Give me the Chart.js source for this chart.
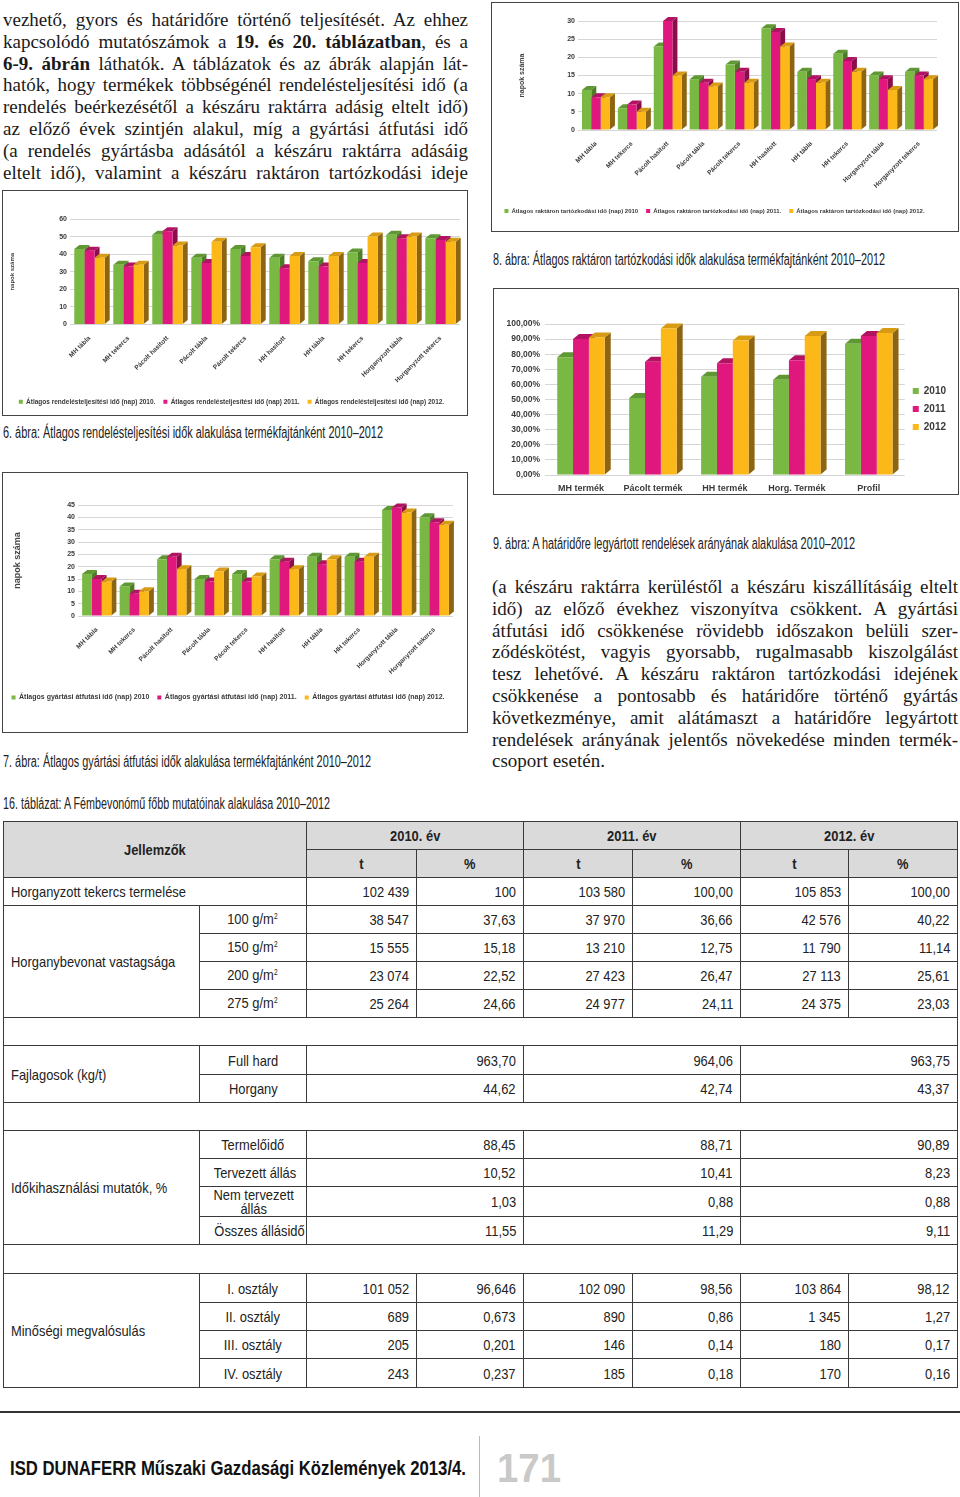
<!DOCTYPE html>
<html lang="hu">
<head>
<meta charset="utf-8">
<script src="https://cdn.jsdelivr.net/npm/chart.js@4.4.1/dist/chart.umd.min.js"></script>
<style>
  body { margin: 0; width: 960px; height: 1497px; position: relative; background: #fff; overflow: hidden;
         font-family: "Liberation Serif", "Times New Roman", serif; color: #1a1a1a; }
  .para { position: absolute; font-size: 19px; }
  .para div { height: 21.8px; line-height: 21.8px; text-align: justify; text-align-last: justify; }
  .para div.last { text-align-last: left; }
  .box { position: absolute; border: 1px solid #444; background: #fff; }
  .box canvas { display: block; }
  .cap { position: absolute; white-space: nowrap; font-family: "Liberation Sans", Arial, sans-serif;
         font-size: 16px; line-height: 16px; color: #222; transform-origin: left center; }
  table.t { position: absolute; left: 3px; top: 821px; border-collapse: collapse; table-layout: fixed; width: 954px;
            font-family: "Liberation Sans", Arial, sans-serif; font-size: 15px; color: #222; }
  table.t td { border: 1px solid #3a3a3a; padding: 0 7px; white-space: nowrap; overflow: hidden; line-height: 15px; }
  table.t td span { display: inline-block; transform: scaleX(.86); }
  td.l { text-align: left; } td.l span { transform-origin: left center; }
  td.r { text-align: right; } td.r span { transform-origin: right center; }
  td.c { text-align: center; }
  tr.h td { background: #dadada; font-weight: bold; }
  .sup { font-size: 9px; position: relative; top: -5px; }
</style>
</head>
<body>

<div class="para" style="left:3px;top:9px;width:465px">
  <div>vezhető, gyors és határidőre történő teljesítését. Az ehhez</div>
  <div>kapcsolódó mutatószámok a <b>19. és 20. táblázatban</b>, és a</div>
  <div><b>6-9. ábrán</b> láthatók. A táblázatok és az ábrák alapján lát-</div>
  <div>hatók, hogy termékek többségénél rendelésteljesítési idő (a</div>
  <div>rendelés beérkezésétől a készáru raktárra adásig eltelt idő)</div>
  <div>az előző évek szintjén alakul, míg a gyártási átfutási idő</div>
  <div>(a rendelés gyártásba adásától a készáru raktárra adásáig</div>
  <div>eltelt idő), valamint a készáru raktáron tartózkodási ideje</div>
</div>

<div class="box" style="left:491px;top:2px;width:466px;height:228px"><canvas id="c8" width="466" height="228"></canvas></div>
<div class="cap" style="left:493px;top:252px" data-w="392">8. ábra: Átlagos raktáron tartózkodási idők alakulása termékfajtánként 2010–2012</div>

<div class="box" style="left:2px;top:190px;width:464px;height:224px"><canvas id="c6" width="464" height="224"></canvas></div>
<div class="cap" style="left:3px;top:425px" data-w="380">6. ábra: Átlagos rendelésteljesítési idők alakulása termékfajtánként 2010–2012</div>

<div class="box" style="left:493px;top:288px;width:464px;height:205px"><canvas id="c9" width="464" height="205"></canvas></div>
<div class="cap" style="left:493px;top:536px" data-w="362">9. ábra: A határidőre legyártott rendelések arányának alakulása 2010–2012</div>

<div class="box" style="left:2px;top:472px;width:464px;height:259px"><canvas id="c7" width="464" height="259"></canvas></div>
<div class="cap" style="left:3px;top:754px" data-w="368">7. ábra: Átlagos gyártási átfutási idők alakulása termékfajtánként 2010–2012</div>

<div class="para" style="left:492px;top:576px;width:466px">
  <div>(a készáru raktárra kerüléstől a készáru kiszállításáig eltelt</div>
  <div>idő) az előző évekhez viszonyítva csökkent. A gyártási</div>
  <div>átfutási idő csökkenése rövidebb időszakon belüli szer-</div>
  <div>ződéskötést, vagyis gyorsabb, rugalmasabb kiszolgálást</div>
  <div>tesz lehetővé. A készáru raktáron tartózkodási idejének</div>
  <div>csökkenése a pontosabb és határidőre történő gyártás</div>
  <div>következménye, amit alátámaszt a határidőre legyártott</div>
  <div>rendelések arányának jelentős növekedése minden termék-</div>
  <div class="last">csoport esetén.</div>
</div>

<div class="cap" style="left:3px;top:796px" data-w="327">16. táblázat: A Fémbevonómű főbb mutatóinak alakulása 2010–2012</div>

<table class="t">
  <colgroup>
    <col style="width:196px"><col style="width:107px"><col style="width:110px"><col style="width:107px">
    <col style="width:109px"><col style="width:108px"><col style="width:108px"><col style="width:109px">
  </colgroup>
  <tr class="h" style="height:28px">
    <td rowspan="2" colspan="2" class="c"><span>Jellemzők</span></td>
    <td colspan="2" class="c"><span>2010. év</span></td>
    <td colspan="2" class="c"><span>2011. év</span></td>
    <td colspan="2" class="c"><span>2012. év</span></td>
  </tr>
  <tr class="h" style="height:28px">
    <td class="c"><span>t</span></td><td class="c"><span>%</span></td>
    <td class="c"><span>t</span></td><td class="c"><span>%</span></td>
    <td class="c"><span>t</span></td><td class="c"><span>%</span></td>
  </tr>
  <tr style="height:28px">
    <td colspan="2" class="l"><span>Horganyzott tekercs termelése</span></td>
    <td class="r"><span>102 439</span></td><td class="r"><span>100</span></td>
    <td class="r"><span>103 580</span></td><td class="r"><span>100,00</span></td>
    <td class="r"><span>105 853</span></td><td class="r"><span>100,00</span></td>
  </tr>
  <tr style="height:28px">
    <td rowspan="4" class="l"><span>Horganybevonat vastagsága</span></td>
    <td class="c"><span>100 g/m<span class="sup">2</span></span></td>
    <td class="r"><span>38 547</span></td><td class="r"><span>37,63</span></td>
    <td class="r"><span>37 970</span></td><td class="r"><span>36,66</span></td>
    <td class="r"><span>42 576</span></td><td class="r"><span>40,22</span></td>
  </tr>
  <tr style="height:28px">
    <td class="c"><span>150 g/m<span class="sup">2</span></span></td>
    <td class="r"><span>15 555</span></td><td class="r"><span>15,18</span></td>
    <td class="r"><span>13 210</span></td><td class="r"><span>12,75</span></td>
    <td class="r"><span>11 790</span></td><td class="r"><span>11,14</span></td>
  </tr>
  <tr style="height:28px">
    <td class="c"><span>200 g/m<span class="sup">2</span></span></td>
    <td class="r"><span>23 074</span></td><td class="r"><span>22,52</span></td>
    <td class="r"><span>27 423</span></td><td class="r"><span>26,47</span></td>
    <td class="r"><span>27 113</span></td><td class="r"><span>25,61</span></td>
  </tr>
  <tr style="height:28px">
    <td class="c"><span>275 g/m<span class="sup">2</span></span></td>
    <td class="r"><span>25 264</span></td><td class="r"><span>24,66</span></td>
    <td class="r"><span>24 977</span></td><td class="r"><span>24,11</span></td>
    <td class="r"><span>24 375</span></td><td class="r"><span>23,03</span></td>
  </tr>
  <tr style="height:28px"><td colspan="8"></td></tr>
  <tr style="height:29px">
    <td rowspan="2" class="l"><span>Fajlagosok (kg/t)</span></td>
    <td class="c"><span>Full hard</span></td>
    <td colspan="2" class="r"><span>963,70</span></td>
    <td colspan="2" class="r"><span>964,06</span></td>
    <td colspan="2" class="r"><span>963,75</span></td>
  </tr>
  <tr style="height:28px">
    <td class="c"><span>Horgany</span></td>
    <td colspan="2" class="r"><span>44,62</span></td>
    <td colspan="2" class="r"><span>42,74</span></td>
    <td colspan="2" class="r"><span>43,37</span></td>
  </tr>
  <tr style="height:28px"><td colspan="8"></td></tr>
  <tr style="height:28px">
    <td rowspan="4" class="l"><span>Időkihasználási mutatók, %</span></td>
    <td class="c"><span>Termelőidő</span></td>
    <td colspan="2" class="r"><span>88,45</span></td>
    <td colspan="2" class="r"><span>88,71</span></td>
    <td colspan="2" class="r"><span>90,89</span></td>
  </tr>
  <tr style="height:28px">
    <td class="c"><span>Tervezett állás</span></td>
    <td colspan="2" class="r"><span>10,52</span></td>
    <td colspan="2" class="r"><span>10,41</span></td>
    <td colspan="2" class="r"><span>8,23</span></td>
  </tr>
  <tr style="height:30px">
    <td class="c" style="line-height:14px"><span>Nem tervezett<br>állás</span></td>
    <td colspan="2" class="r"><span>1,03</span></td>
    <td colspan="2" class="r"><span>0,88</span></td>
    <td colspan="2" class="r"><span>0,88</span></td>
  </tr>
  <tr style="height:28px">
    <td class="c"><span>Összes állásidő</span></td>
    <td colspan="2" class="r"><span>11,55</span></td>
    <td colspan="2" class="r"><span>11,29</span></td>
    <td colspan="2" class="r"><span>9,11</span></td>
  </tr>
  <tr style="height:29px"><td colspan="8"></td></tr>
  <tr style="height:29px">
    <td rowspan="4" class="l"><span>Minőségi megvalósulás</span></td>
    <td class="c"><span>I. osztály</span></td>
    <td class="r"><span>101 052</span></td><td class="r"><span>96,646</span></td>
    <td class="r"><span>102 090</span></td><td class="r"><span>98,56</span></td>
    <td class="r"><span>103 864</span></td><td class="r"><span>98,12</span></td>
  </tr>
  <tr style="height:28px">
    <td class="c"><span>II. osztály</span></td>
    <td class="r"><span>689</span></td><td class="r"><span>0,673</span></td>
    <td class="r"><span>890</span></td><td class="r"><span>0,86</span></td>
    <td class="r"><span>1 345</span></td><td class="r"><span>1,27</span></td>
  </tr>
  <tr style="height:28px">
    <td class="c"><span>III. osztály</span></td>
    <td class="r"><span>205</span></td><td class="r"><span>0,201</span></td>
    <td class="r"><span>146</span></td><td class="r"><span>0,14</span></td>
    <td class="r"><span>180</span></td><td class="r"><span>0,17</span></td>
  </tr>
  <tr style="height:29px">
    <td class="c"><span>IV. osztály</span></td>
    <td class="r"><span>243</span></td><td class="r"><span>0,237</span></td>
    <td class="r"><span>185</span></td><td class="r"><span>0,18</span></td>
    <td class="r"><span>170</span></td><td class="r"><span>0,16</span></td>
  </tr>
</table>

<div style="position:absolute;left:0;top:1411px;width:960px;height:2px;background:#333"></div>
<div style="position:absolute;left:479px;top:1436px;width:1px;height:61px;background:#bbb"></div>
<div class="cap" style="left:10px;top:1457px;font-size:21px;line-height:22px;font-weight:bold;color:#111" data-w="456">ISD DUNAFERR Műszaki Gazdasági Közlemények 2013/4.</div>
<div class="cap" style="left:497px;top:1447px;font-size:40px;line-height:42px;font-weight:bold;color:#c9c9c9" data-w="64">171</div>

<script>
// product categories (figures 6-8)
const products = ["MH tábla", "MH tekercs", "Pácolt hasított", "Pácolt tábla", "Pácolt tekercs",
                  "HH hasított", "HH tábla", "HH tekercs", "Horganyzott tábla", "Horganyzott tekercs"];

// 6. ábra - rendelésteljesítési idő (nap)
const order2010 = [43, 34, 51, 38, 43, 38, 36, 41, 51, 49];
const order2011 = [42, 33, 53, 35, 39, 32, 33, 35, 49, 48];
const order2012 = [38, 34, 45, 47, 44, 39, 39, 50, 50, 47];

// 7. ábra - gyártási átfutási idő (nap)
const lead2010 = [17, 12, 23, 15, 17, 23, 24, 24, 43, 40];
const lead2011 = [15, 9, 24, 14, 14, 22, 21, 22, 44, 38];
const lead2012 = [14, 10, 19, 18, 16, 19, 23, 24, 42, 37];

// 8. ábra - raktáron tartózkodási idő (nap)
const stock2010 = [11, 6, 23, 14, 18, 28, 16, 21, 15, 16];
const stock2011 = [9, 7, 30, 13, 16, 27, 14, 19, 14, 15];
const stock2012 = [9, 5, 15, 12, 13, 23, 13, 16, 11, 14];

// 9. ábra - határidőre legyártott rendelések aránya (%)
const groups = ["MH termék", "Pácolt termék", "HH termék", "Horg. Termék", "Profil"];
const onTime2010 = [78, 51, 65, 63, 87];
const onTime2011 = [90, 75, 74, 76, 92];
const onTime2012 = [91, 97, 89, 92, 94];

const FRONT = ["#7ab844", "#e0187e", "#fcb719"];
const SIDE = ["#4e7d28", "#8c0d4c", "#8d6512"];
const TOP = ["#5f9733", "#b21262", "#d89b14"];
const FONT = "'Liberation Sans', Arial, sans-serif";

// fake excel 3d look: side + top faces drawn before the front faces
const depth3d = {
  id: "depth3d",
  beforeDatasetsDraw(chart, args, opts) {
    const ctx = chart.ctx;
    ctx.save();
    chart.data.datasets.forEach((ds, i) => {
      chart.getDatasetMeta(i).data.forEach((bar) => {
        const { x, y, base, width } = bar.getProps(["x", "y", "base", "width"], true);
        const l = x - width / 2, r = x + width / 2;
        ctx.fillStyle = SIDE[i];
        ctx.beginPath();
        ctx.moveTo(r, y); ctx.lineTo(r + opts.dx, y - opts.dy);
        ctx.lineTo(r + opts.dx, base - opts.dy); ctx.lineTo(r, base);
        ctx.closePath(); ctx.fill();
        ctx.fillStyle = TOP[i];
        ctx.beginPath();
        ctx.moveTo(l, y); ctx.lineTo(l + opts.dx, y - opts.dy);
        ctx.lineTo(r + opts.dx, y - opts.dy); ctx.lineTo(r, y);
        ctx.closePath(); ctx.fill();
      });
    });
    ctx.restore();
  },
};

function makeBars(id, labels, series, names, o) {
  return new Chart(document.getElementById(id), {
    type: "bar",
    data: {
      labels: labels,
      datasets: series.map((values, i) => ({
        label: names[i],
        data: values,
        backgroundColor: FRONT[i],
        categoryPercentage: o.cat,
        barPercentage: 1,
      })),
    },
    options: {
      responsive: false,
      animation: false,
      layout: { padding: o.pad },
      plugins: {
        tooltip: { enabled: false },
        legend: {
          position: o.legendPos,
          labels: {
            boxWidth: o.box, boxHeight: o.box, padding: o.legendPad, color: "#3a3a3a",
            font: { size: o.legendFont, weight: "bold", family: FONT },
          },
        },
        depth3d: { dx: o.dx, dy: o.dy },
      },
      scales: {
        x: {
          grid: { display: false },
          border: { display: false },
          ticks: {
            autoSkip: false, minRotation: o.rot, maxRotation: o.rot, padding: o.xPad, color: "#3a3a3a",
            font: { size: o.xFont, weight: "bold", family: FONT },
          },
          afterFit: (s) => { s.height = o.xh; },
        },
        y: {
          min: 0,
          max: o.max,
          grid: { color: "#d6d6d6", drawTicks: false },
          border: { display: false },
          ticks: {
            stepSize: o.step, padding: o.yPad, color: "#3a3a3a",
            font: { size: o.yFont, weight: "bold", family: FONT },
            callback: o.fmt || ((v) => v),
          },
          title: o.title
            ? { display: true, text: o.title, color: "#444",
                font: { size: o.titleFont, weight: "bold", family: FONT },
                padding: { top: o.titlePad, bottom: 0 } }
            : { display: false },
          afterFit: (s) => { s.width = o.yw; },
        },
      },
    },
    plugins: [depth3d],
  });
}

makeBars("c8", products, [stock2010, stock2011, stock2012], [
  "Átlagos raktáron tartózkodási idő (nap) 2010",
  "Átlagos raktáron tartózkodási idő (nap) 2011.",
  "Átlagos raktáron tartózkodási idő (nap) 2012.",
], {
  cat: 0.78, dx: 5, dy: 4, max: 30, step: 5, rot: 45,
  pad: { left: 0, right: 21, top: 18, bottom: 7 }, yw: 86, xh: 70,
  xFont: 6.5, yFont: 7, xPad: 2, yPad: 3, title: "napok száma", titleFont: 7, titlePad: 26,
  legendPos: "bottom", legendFont: 6, legendPad: 8, box: 4,
});

makeBars("c6", products, [order2010, order2011, order2012], [
  "Átlagos rendelésteljesítési idő (nap) 2010.",
  "Átlagos rendelésteljesítési idő (nap) 2011.",
  "Átlagos rendelésteljesítési idő (nap) 2012.",
], {
  cat: 0.78, dx: 5, dy: 4, max: 60, step: 10, rot: 45,
  pad: { left: 0, right: 7, top: 28, bottom: 0 }, yw: 67, xh: 66,
  xFont: 6.5, yFont: 7, xPad: 2, yPad: 3, title: "napok száma", titleFont: 6, titlePad: 6,
  legendPos: "bottom", legendFont: 6.5, legendPad: 8, box: 4,
});

makeBars("c7", products, [lead2010, lead2011, lead2012], [
  "Átlagos gyártási átfutási idő (nap) 2010",
  "Átlagos gyártási átfutási idő (nap) 2011.",
  "Átlagos gyártási átfutási idő (nap) 2012.",
], {
  cat: 0.78, dx: 5, dy: 4, max: 45, step: 5, rot: 45,
  pad: { left: 0, right: 14, top: 32, bottom: 21 }, yw: 75, xh: 70,
  xFont: 6.5, yFont: 7, xPad: 2, yPad: 3, title: "napok száma", titleFont: 9, titlePad: 9,
  legendPos: "bottom", legendFont: 7, legendPad: 8, box: 4,
});

makeBars("c9", groups, [onTime2010, onTime2011, onTime2012], ["2010", "2011", "2012"], {
  cat: 0.66, dx: 6, dy: 5, max: 100, step: 10, rot: 0,
  pad: { left: 0, right: 2, top: 35, bottom: 0 }, yw: 51, xh: 19,
  xFont: 9, yFont: 8.5, xPad: 0, yPad: 5,
  fmt: (v) => v.toFixed(2).replace(".", ",") + "%",
  legendPos: "right", legendFont: 10, legendPad: 8, box: 6,
});

// squeeze the condensed captions to their widths
document.querySelectorAll("[data-w]").forEach((el) => {
  const k = +el.dataset.w / el.getBoundingClientRect().width;
  el.style.transform = "scaleX(" + k + ")";
});
</script>
</body>
</html>
